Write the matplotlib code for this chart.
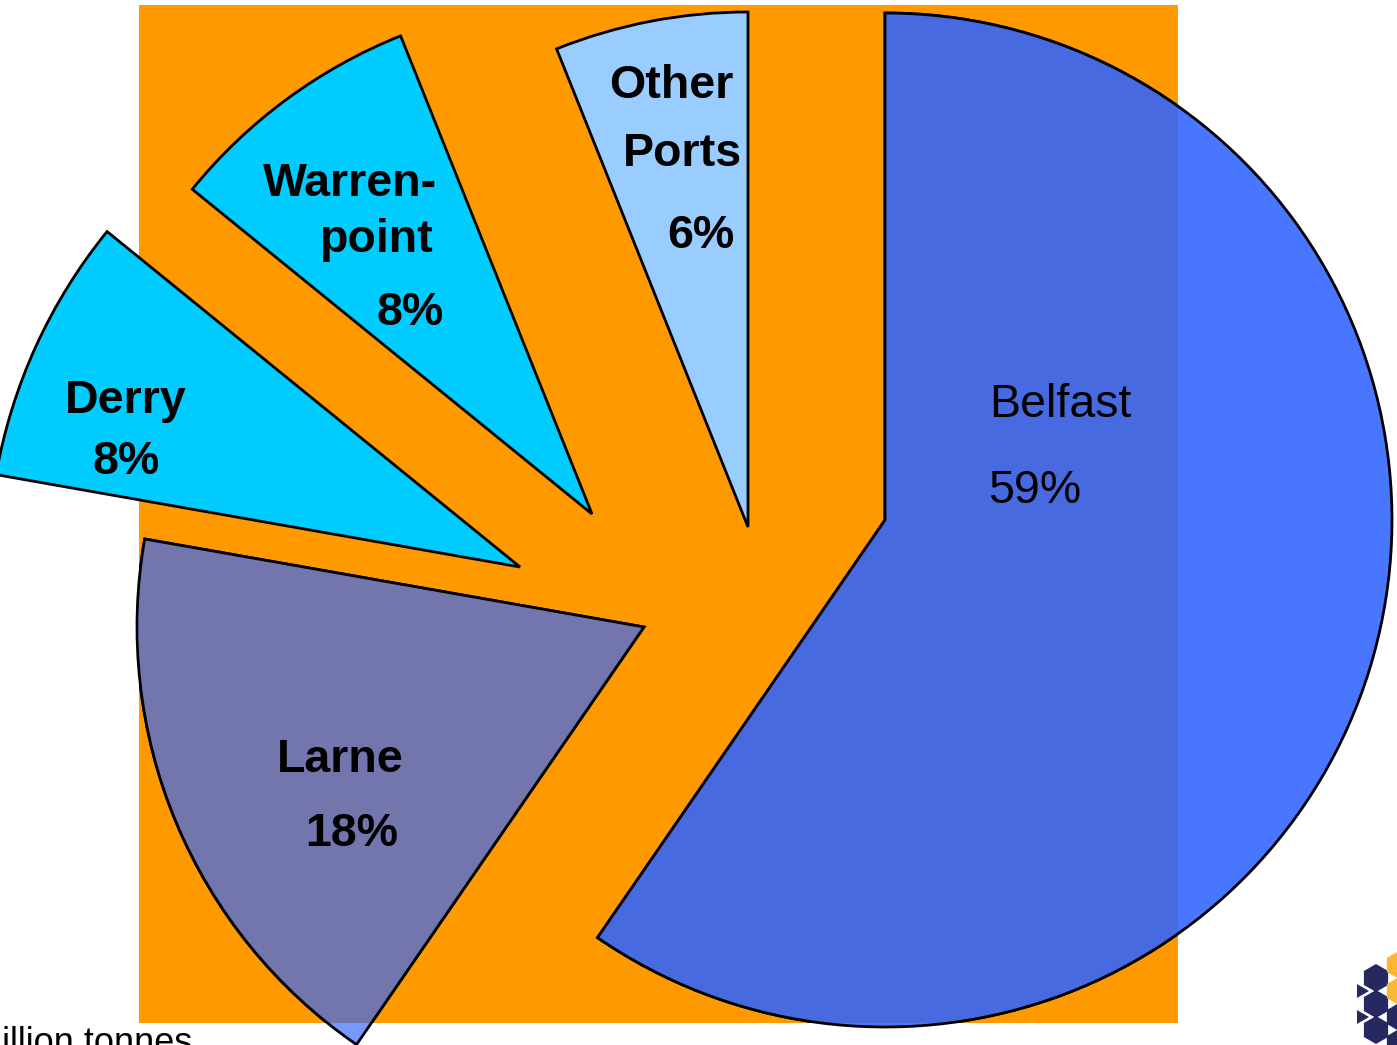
import matplotlib
matplotlib.use("Agg")
import matplotlib.pyplot as plt
from matplotlib.patches import Rectangle, Wedge, RegularPolygon

# --------------------------
# data: share of port traffic (million tonnes)
# --------------------------
ports = ["Belfast", "Larne", "Derry", "Warrenpoint", "Other Ports"]
shares = [59, 18, 8, 8, 6]
label_lines = [["Belfast"], ["Larne"], ["Derry"], ["Warren-", "point"], ["Other", "Ports"]]
unit_text = "Million tonnes"

# --------------------------
# styling / layout (pixel coords, image y runs down)
# --------------------------
W, H = 1397, 1045
ORANGE = "#fe9900"
colors = ["#4876ff", "#7799ff", "#00ccff", "#00ccff", "#99ccff"]
inner_colors = {0: "#486ae0", 1: "#7276ad"}   # tint where slices sit on the orange panel
shift = [(0, 0), (-241, 107), (-365, 47), (-293, -6), (-137, 7)]
radius = [507, 507, 532, 515, 515]
bold = [False, True, True, True, True]
LW = 2.0
# (x, baseline) for every text line, last one is the percentage
text_pos = [
    [(989, 417), (988, 503)],
    [(340, 772), (352, 846)],
    [(126, 413), (126, 474)],
    [(350, 196), (377, 252), (410, 325)],
    [(671, 98), (682, 166), (701, 248)],
]


def px(x, y):
    return (x, H - y)


fig = plt.figure(figsize=(W / 100, H / 100), dpi=100)
ax = fig.add_axes([0, 0, 1, 1])

bg = Rectangle(px(139, 1023), 1178 - 139, 1023 - 5, facecolor=ORANGE,
               edgecolor="none", zorder=0)
ax.add_patch(bg)

cx, cy = px(885, 520)
wedges, _ = ax.pie(shares, colors=colors, startangle=90, counterclock=False,
                   center=(cx, cy), radius=505,
                   wedgeprops=dict(edgecolor="black", linewidth=LW))

for i, w in enumerate(wedges):
    dx, dy = shift[i]
    w.set_center((cx + dx, cy - dy))
    w.set_radius(radius[i])
    w.set_zorder(1)

# darker tint of the two blue slices inside the orange panel
for i, c in inner_colors.items():
    w = wedges[i]
    ov = Wedge(w.center, w.r, w.theta1, w.theta2, facecolor=c,
               edgecolor="black", linewidth=LW, zorder=1.5)
    ax.add_patch(ov)
    ov.set_clip_path(bg)

for i, lines in enumerate(label_lines):
    texts = lines + [f"{shares[i]}%"]
    for j, t in enumerate(texts):
        x, y = text_pos[i][j]
        ax.text(*px(x, y), t, fontsize=33.5, family="Liberation Sans",
                fontweight="bold" if bold[i] else "normal",
                ha="left" if i == 0 else "center", va="baseline", zorder=3)

ax.text(*px(192, 1053), unit_text, fontsize=26, family="Liberation Sans",
        ha="right", va="baseline")

# small logo in the corner
navy, gold = "#27285f", "#fbb731"
for (x, y, c) in [(1376, 978, navy), (1376, 1004, navy), (1376, 1030, navy),
                  (1399, 965, gold), (1399, 991, gold), (1399, 1017, navy),
                  (1399, 1043, navy)]:
    ax.add_patch(RegularPolygon(px(x, y), 6, radius=14, facecolor=c,
                                edgecolor="none", zorder=2))
for y in (991, 1017):
    ax.add_patch(RegularPolygon(px(1361, y), 3, radius=8, orientation=-3.1416 / 2,
                                facecolor=navy, edgecolor="none", zorder=2))

ax.set_xlim(0, W)
ax.set_ylim(0, H)
ax.set_aspect("auto")
ax.axis("off")

plt.savefig("out.png", dpi=100)
plt.close()
